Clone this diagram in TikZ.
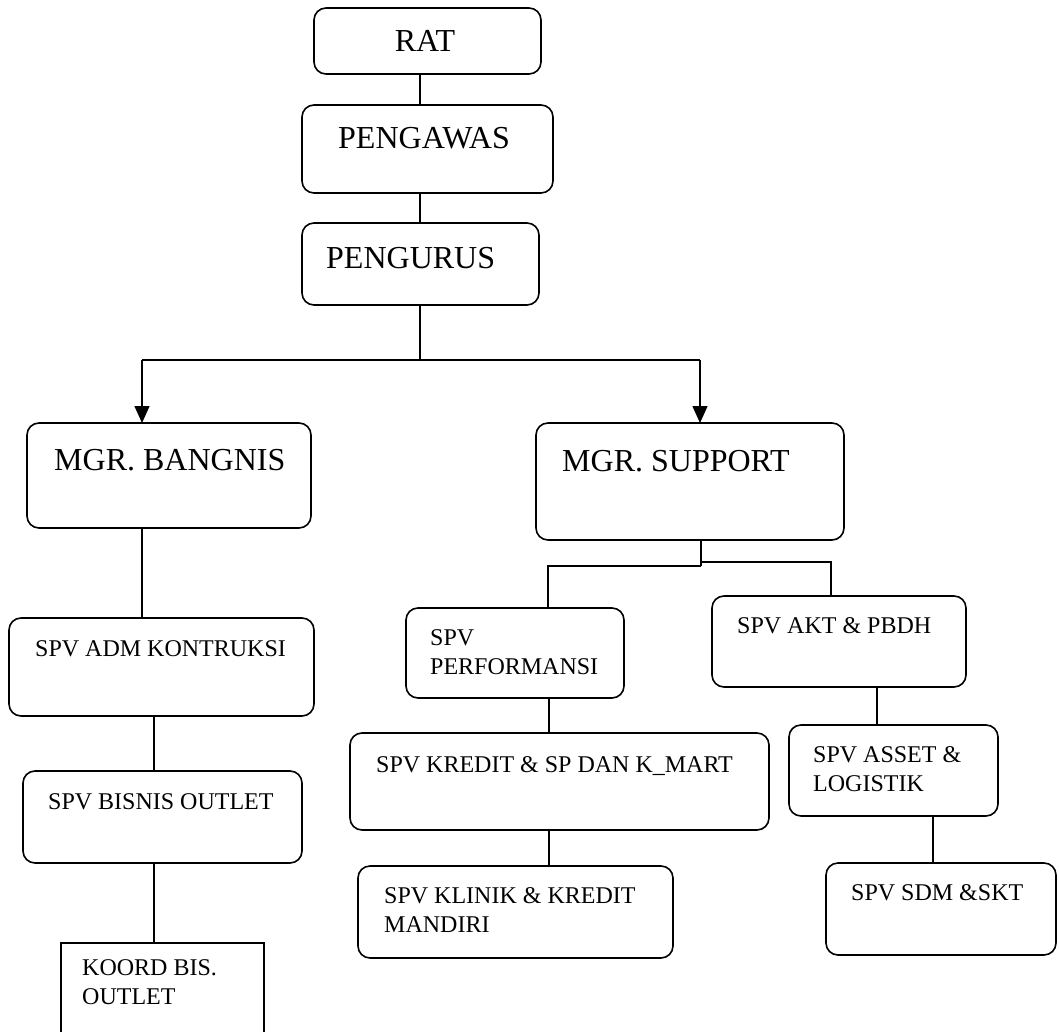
\documentclass[tikz,border=0pt]{standalone}
\usepackage{fontspec}
\setmainfont{Liberation Serif}
\usetikzlibrary{fit,arrows.meta}
\newcommand\twolines[2]{\begin{tabular}[t]{@{}l@{}}#1\\#2\end{tabular}}
\begin{document}
\begin{tikzpicture}[x=1pt,y=-1pt,
  box/.style={draw,line width=1.6pt,rounded corners=12pt,inner sep=0pt,outer sep=0pt},
  sqbox/.style={draw,line width=1.6pt,inner sep=0pt,outer sep=0pt},
  big/.style={inner sep=0pt,font=\fontsize{32}{38}\selectfont},
  small/.style={inner sep=0pt,font=\fontsize{24}{29.5}\selectfont,anchor=base west},
  link/.style={line width=1.4pt},
  arr/.style={link,-{Triangle[length=17pt,width=15pt]}}]
\useasboundingbox (0,0) rectangle (1059,1032);
\fill[white] (0,0) rectangle (1059,1032);
\clip (0,0) rectangle (1059,1032);

% boxes and texts
\node[box,fit={(314,8)(541,74)}] (rat) {};
\node[big,anchor=base] (ratT) at (425,52) {RAT};
\node[box,fit={(302,105)(553,193)}] (pengawas) {};
\node[big,anchor=base west] (pengawasT) at (338,149) {PENGAWAS};
\node[box,fit={(302,223)(539,305)}] (pengurus) {};
\node[big,anchor=base west] (pengurusT) at (326,268) {PENGURUS};
\node[box,fit={(27,423)(311,528)}] (bangnis) {};
\node[big,anchor=base west] (bangnisT) at (54,470) {MGR. BANGNIS};
\node[box,fit={(536,423)(844,540)}] (support) {};
\node[big,anchor=base west] (supportT) at (562,471) {MGR. SUPPORT};
\node[box,fit={(9,618)(314,716)}] (adm) {};
\node[small] (admT) at (35,656) {SPV ADM KONTRUKSI};
\node[box,fit={(23,771)(302,863)}] (bisnis) {};
\node[small] (bisnisT) at (48,809) {SPV BISNIS OUTLET};
\node[sqbox,fit={(61,943)(264,1060)}] (koord) {};
\node[small] (koordT) at (82,975) {\twolines{KOORD BIS.}{OUTLET}};
\node[box,fit={(406,608)(624,698)}] (perf) {};
\node[small] (perfT) at (430,645) {\twolines{SPV}{PERFORMANSI}};
\node[box,fit={(350,733)(769,830)}] (kredit) {};
\node[small] (kreditT) at (376,772) {SPV KREDIT \& SP DAN K\_MART};
\node[box,fit={(358,866)(673,958)}] (klinik) {};
\node[small] (klinikT) at (384,903) {\twolines{SPV KLINIK \& KREDIT}{MANDIRI}};
\node[box,fit={(712,596)(966,687)}] (akt) {};
\node[small] (aktT) at (737,633) {SPV AKT \& PBDH};
\node[box,fit={(789,725)(998,816)}] (asset) {};
\node[small] (assetT) at (813,762) {\twolines{SPV ASSET \&}{LOGISTIK}};
\node[box,fit={(826,863)(1056,955)}] (sdm) {};
\node[small] (sdmT) at (851,900) {SPV SDM \&SKT};

% connectors
\coordinate (cx) at (420,0);
\draw[link] (rat.south -| cx) -- (pengawas.north -| cx);
\draw[link] (pengawas.south -| cx) -- (pengurus.north -| cx);
\coordinate (jl) at (142,360);
\coordinate (jr) at (700,360);
\draw[link] (pengurus.south -| cx) -- (cx |- jl);
\draw[link] (jl) -- (jr);
\draw[arr] (jl) -- (jl |- bangnis.north);
\draw[arr] (jr) -- (jr |- support.north);

\coordinate (ba) at (142,0);
\coordinate (bb) at (154,0);
\draw[link] (bangnis.south -| ba) -- (adm.north -| ba);
\draw[link] (adm.south -| bb) -- (bisnis.north -| bb);
\draw[link] (bisnis.south -| bb) -- (koord.north -| bb);

\coordinate (sx) at (701,566);
\coordinate (pl) at (548,566);
\coordinate (pr) at (831,562);
\draw[link] (support.south -| sx) -- (sx);
\draw[link] (sx) -- (pl) -- (perf.north -| pl);
\draw[link] (sx |- pr) -- (pr) -- (akt.north -| pr);

\coordinate (kx) at (549,0);
\draw[link] (perf.south -| kx) -- (kredit.north -| kx);
\draw[link] (kredit.south -| kx) -- (klinik.north -| kx);
\coordinate (ax) at (877,0);
\coordinate (sx2) at (933,0);
\draw[link] (akt.south -| ax) -- (asset.north -| ax);
\draw[link] (asset.south -| sx2) -- (sdm.north -| sx2);
\end{tikzpicture}
\end{document}
